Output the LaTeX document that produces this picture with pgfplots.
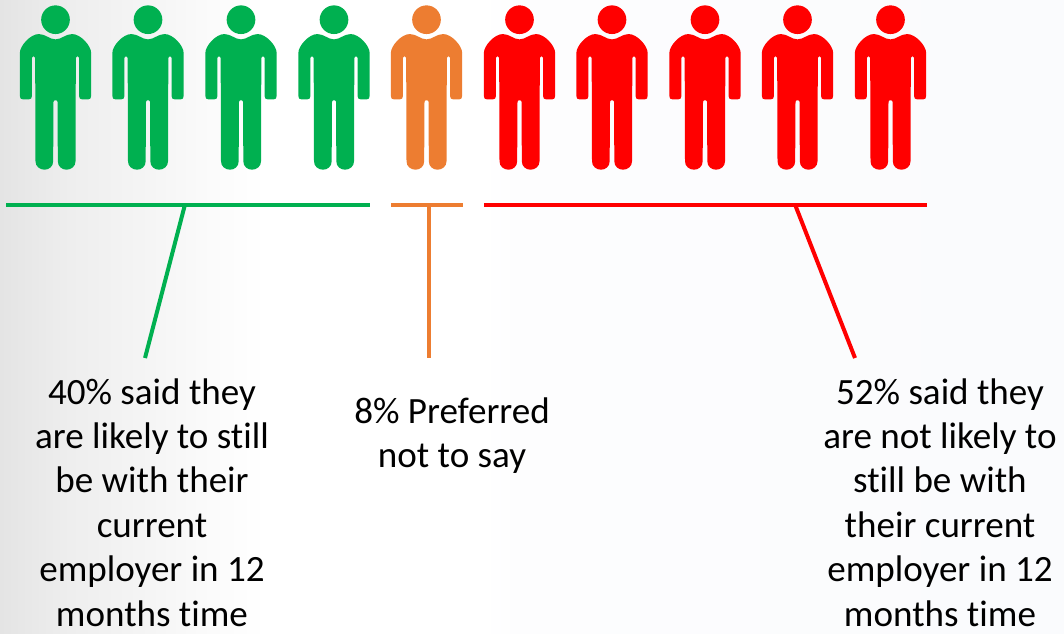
\documentclass[border=0pt]{standalone}
\usepackage{pgfplots}
\pgfplotsset{compat=1.18}
\usepackage{fontspec}
\setmainfont[Ligatures=NoCommon]{Carlito}
\definecolor{pgreen}{RGB}{0,176,80}
\definecolor{porange}{RGB}{237,125,49}
\definecolor{pred}{RGB}{255,0,0}
\def\Q#1#2{\pgfpoint{(#1)*0.25pt}{(#2)*(-0.25pt)}}
\pgfdeclareplotmark{person}{%
  \pgfpathcircle{\Q{0}{0}}{10.75pt}%
  \pgfpathmoveto{\Q{0}{59}}%
  \pgfpathcurveto{\Q{18}{59}}{\Q{30}{43}}{\Q{50}{43}}%
  \pgfpathcurveto{\Q{75}{43}}{\Q{107}{78}}{\Q{107}{100}}%
  \pgfpathlineto{\Q{107}{228}}%
  \pgfpathcurveto{\Q{107}{236}}{\Q{104}{239}}{\Q{98}{239}}%
  \pgfpathlineto{\Q{80}{239}}%
  \pgfpathcurveto{\Q{74}{239}}{\Q{71}{236}}{\Q{71}{230}}%
  \pgfpathlineto{\Q{71}{114}}%
  \pgfpathcurveto{\Q{71}{108}}{\Q{61}{108}}{\Q{61}{114}}%
  \pgfpathlineto{\Q{60}{425}}%
  \pgfpathcurveto{\Q{60}{440}}{\Q{47}{450}}{\Q{33}{450}}%
  \pgfpathcurveto{\Q{19}{450}}{\Q{7}{440}}{\Q{7}{425}}%
  \pgfpathlineto{\Q{6}{246}}%
  \pgfpathcurveto{\Q{6}{240}}{\Q{-6}{240}}{\Q{-6}{246}}%
  \pgfpathlineto{\Q{-7}{425}}%
  \pgfpathcurveto{\Q{-7}{440}}{\Q{-19}{450}}{\Q{-33}{450}}%
  \pgfpathcurveto{\Q{-47}{450}}{\Q{-60}{440}}{\Q{-60}{425}}%
  \pgfpathlineto{\Q{-61}{114}}%
  \pgfpathcurveto{\Q{-61}{108}}{\Q{-71}{108}}{\Q{-71}{114}}%
  \pgfpathlineto{\Q{-71}{230}}%
  \pgfpathcurveto{\Q{-71}{236}}{\Q{-74}{239}}{\Q{-80}{239}}%
  \pgfpathlineto{\Q{-98}{239}}%
  \pgfpathcurveto{\Q{-104}{239}}{\Q{-107}{236}}{\Q{-107}{228}}%
  \pgfpathlineto{\Q{-107}{100}}%
  \pgfpathcurveto{\Q{-107}{78}}{\Q{-75}{43}}{\Q{-50}{43}}%
  \pgfpathcurveto{\Q{-30}{43}}{\Q{-18}{59}}{\Q{0}{59}}%
  \pgfpathclose
  \pgfusepathqfill
}
\definecolor{g0}{RGB}{228,228,228}
\definecolor{g1}{RGB}{238,238,238}
\definecolor{g2}{RGB}{245,245,245}
\definecolor{g3}{RGB}{250,250,250}
\definecolor{g4}{RGB}{253,253,254}
\definecolor{g5}{RGB}{250,251,253}
\pgfdeclarehorizontalshading{bgshade}{100bp}{
  color(0bp)=(g0);
  color(25bp)=(g0);
  color(28.3bp)=(g1);
  color(32.05bp)=(g2);
  color(34.4bp)=(g3);
  color(37.5bp)=(white);
  color(47.6bp)=(white);
  color(49.4bp)=(g4);
  color(72bp)=(g5);
  color(100bp)=(g5)}
\tikzset{lab/.style={font=\fontsize{27.8pt}{33.3pt}\selectfont, align=center, text=black, inner sep=0pt, anchor=north}}
\begin{document}
\begin{tikzpicture}
\begin{axis}[
  scale only axis, width=798pt, height=474.75pt,
  xmin=0, xmax=1064, ymin=0, ymax=633, y dir=reverse,
  hide axis, clip=false,
]
\shade[shading=bgshade] (axis cs:0,0) rectangle (axis cs:1064,633);
\addplot[only marks, mark=person, mark options={fill=pgreen, draw=none}] coordinates {(55.5,19.7) (148,19.7) (241,19.7) (334,19.7)};
\addplot[only marks, mark=person, mark options={fill=porange, draw=none}] coordinates {(426.5,19.7)};
\addplot[only marks, mark=person, mark options={fill=pred, draw=none}] coordinates {(519.5,19.7) (612,19.7) (705,19.7) (797.5,19.7) (890.5,19.7)};
\addplot[pgreen, line width=3pt] coordinates {(6,204.5) (370,204.5)};
\addplot[pgreen, line width=3pt] coordinates {(185,204.5) (145,358)};
\addplot[porange, line width=3pt] coordinates {(391,204.5) (463,204.5)};
\addplot[porange, line width=3pt] coordinates {(429,204.5) (429,358)};
\addplot[pred, line width=3pt] coordinates {(484,204.5) (927,204.5)};
\addplot[pred, line width=3pt] coordinates {(795,204.5) (855,358)};
\node[lab] at (axis cs:152,378) {40\% said they\\are likely to still\\be with their\\current\\employer in 12\\months time};
\node[lab] at (axis cs:452,397) {8\% Preferred\\not to say};
\node[lab] at (axis cs:940,378) {52\% said they\\are not likely to\\still be with\\their current\\employer in 12\\months time};
\end{axis}
\end{tikzpicture}
\end{document}
